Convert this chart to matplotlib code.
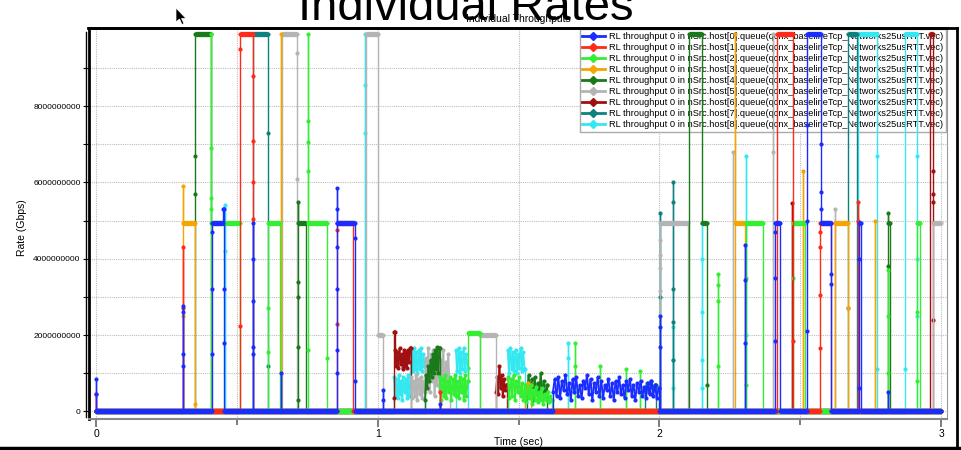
import numpy as np
import matplotlib
matplotlib.use("Agg")
import matplotlib.pyplot as plt
from matplotlib.collections import LineCollection
from matplotlib.lines import Line2D
from matplotlib.patches import Polygon

plt.rcParams['font.family'] = ['Liberation Sans', 'DejaVu Sans']

# ---- data (rates in units of 1e9 bit/s, time in s) ----
# event = (t, [values passed through at t])  or  (t_start, t_end, [samples])
blue_noise = [0.5, 0.85, 0.4, 0.9, 0.35, 0.8, 0.55, 0.95, 0.45, 0.75, 0.3, 0.85, 0.5, 0.9, 0.4,
              0.7, 0.35, 0.8, 0.6, 0.95, 0.45, 0.85, 0.3, 0.75, 0.5, 0.9, 0.4, 0.8, 0.35, 0.7,
              0.55, 0.85, 0.4, 0.75, 0.3, 0.8, 0.5, 0.9, 0.45, 0.7, 0.35, 0.8, 0.55, 0.85, 0.4,
              0.7, 0.3, 0.75, 0.5, 0.8, 0.4, 0.65, 0.35, 0.75, 0.45, 0.8, 0.4, 0.7, 0.35, 0.6]
lime_noise_a = [0.9, 0.3, 0.85, 0.4, 0.95, 0.35, 0.8, 0.5, 0.9, 0.3, 0.85, 0.45, 0.95, 0.4,
                0.8, 0.35, 0.9, 0.5, 0.85, 0.3, 0.95, 0.4, 0.8]
lime_noise_b = [0.9, 0.35, 0.85, 0.4, 0.95, 0.3, 0.8, 0.5, 0.9, 0.4, 0.75, 0.3, 0.7, 0.25, 0.6,
                0.35, 0.7, 0.2, 0.55, 0.3, 0.65, 0.25, 0.5, 0.3, 0.6, 0.2, 0.45, 0.3, 0.5, 0.25,
                0.4, 0.3]
orange_noise = [0.35, 0.6, 0.75, 0.55, 0.4, 0.7]
dgreen_noise_a = [0.3, 0.95, 0.6, 1.2, 0.8, 1.35, 0.9, 1.5, 1.0, 1.6, 1.1, 1.7, 1.0, 1.65]
dgreen_noise_b = [0.4, 0.95, 0.5, 0.85, 0.3, 0.9, 0.45, 0.75, 0.35, 1.0, 0.5, 0.8, 0.4, 0.7]
gray_noise = [0.9, 0.35, 0.8, 0.4, 0.95, 0.3, 0.85, 0.45, 0.9, 0.35, 0.8, 0.5,
              1.4, 0.6, 1.65, 0.5, 1.5, 0.8, 1.6, 0.4, 1.45, 0.7, 1.55, 0.5, 1.35, 0.9,
              1.6, 0.6, 1.3, 0.8, 1.5, 0.6]
dred_noise_a = [1.6, 1.2, 1.55, 1.15, 1.65, 1.25, 1.5, 1.1, 1.6, 1.2, 1.55, 1.15, 1.6, 1.3, 1.65]
dred_noise_b = [0.5, 0.9, 0.45, 1.2, 0.6, 0.95, 0.4, 0.85, 0.55, 0.7]
teal_noise = [0.6, 0.75, 0.5, 0.8, 0.6, 0.7]
cyan_noise_a = [0.9, 0.4, 0.85, 0.35, 0.95, 0.45, 0.8, 0.3, 0.9, 0.5, 0.85, 0.35, 0.95, 0.4,
                0.9, 1.6, 1.05, 1.65, 1.1, 1.55, 1.0, 1.6, 1.1, 1.65, 1.05, 1.5, 1.2]
cyan_noise_c = [1.6, 1.05, 1.65, 1.0, 1.55, 1.1, 1.65, 1.05, 1.5, 1.15]
cyan_noise_d = [1.6, 1.0, 1.65, 1.1, 1.55, 1.05, 1.6, 1.0, 1.5, 1.15, 1.65, 1.05, 1.55, 1.1]

host0 = [(0.0, [0.85, 0.45, 0.0]), (0.309, [1.2, 1.5, 2.6, 2.75, 0.0]),
         (0.412, [1.5, 3.2, 4.7, 4.95]), (0.450, [5.3]), (0.456, [3.2, 1.8, 0.0]),
         (0.557, [1.5, 1.7, 2.9, 4.0, 4.95, 0.0]), (0.655, [1.0, 0.0]),
         (0.856, [1.0, 1.6, 3.2, 4.3, 5.85, 5.3, 4.95]), (0.919, [4.55, 0.8, 0.0]),
         (1.019, [0.3, 0.55, 0.0]), (1.221, [0.2, 0.0]),
         (1.622, 1.997, blue_noise), (1.999, [0.0]), (2.002, [1.7, 2.2, 2.5, 0.0]),
         (2.305, [1.8, 3.45, 4.35, 0.0]), (2.410, [1.85, 3.5, 4.7, 4.95]), (2.428, [0.0]),
         (2.524, [2.1, 5.0, 7.5, 9.9]), (2.572, [7.0, 5.75, 5.3, 4.95]),
         (2.610, [3.6, 3.35, 0.0]), (2.707, [0.6, 4.0, 4.95]), (2.714, [0.0]),
         (2.811, [0.5, 0.0])]
host1 = [(0.0, [0.45, 0.0]), (0.309, [2.7, 4.3, 0.0]), (0.511, [2.25, 9.5, 9.9]),
         (0.557, [8.8, 7.1, 6.0, 5.05, 0.0]), (0.856, [2.3, 4.75, 4.95]), (0.912, [0.0]),
         (1.221, [0.5, 0.0]), (2.417, [9.9]), (2.474, [1.85, 0.0]),
         (2.570, [1.65, 3.05, 4.3, 4.7, 4.95]), (2.608, [0.0]), (2.705, [5.0, 5.5, 0.0])]
host2 = [(0.408, [9.9, 6.9, 5.6, 5.3, 4.95]), (0.511, [0.0]), (0.611, [1.55, 2.7, 4.95]),
         (0.653, [0.0]), (0.753, [1.6, 6.3, 7.05, 7.6, 9.9, 4.95]), (0.820, [1.4, 0.0]),
         (1.221, 1.319, lime_noise_a), (1.321, [2.05]), (1.363, [0.0]),
         (1.462, 1.618, lime_noise_b), (1.620, [0.0]), (1.700, [1.2, 1.8, 0.0]),
         (1.790, [1.2, 0.0]), (1.880, [1.1, 0.0]), (1.930, [1.05, 0.0]),
         (2.208, [1.2, 2.9, 3.3, 3.6, 0.0]), (2.307, [0.7, 3.5, 4.95]), (2.368, [0.0]),
         (2.474, [3.5, 4.95]), (2.517, [0.0]), (2.811, [1.0, 2.5, 3.7, 0.0]),
         (2.914, [0.8, 2.6, 4.95]), (2.925, [0.0])]
host3 = [(0.309, [2.5, 5.9, 4.95]), (0.351, [0.2, 0.0]), (0.657, [9.9, 0.0]),
         (1.523, 1.545, orange_noise), (1.545, [0.0]), (2.268, [9.9, 4.95]), (2.304, [0.0]),
         (2.510, [6.3, 0.0]), (2.623, [4.95]), (2.670, [2.7, 0.0]), (2.765, [5.0, 0.0])]
host4 = [(0.351, [5.7, 6.7, 9.9]), (0.408, [0.0]), (0.717, [0.3, 1.7, 3.0, 3.4, 5.5, 4.95]),
         (0.745, [0.0]), (1.168, 1.219, dgreen_noise_a), (1.221, [0.0]),
         (1.530, 1.600, dgreen_noise_b), (1.602, [0.0]), (2.105, [9.9]), (2.151, [4.95]),
         (2.169, [0.7, 0.0]), (2.811, [3.8, 5.2, 4.95]), (2.818, [0.0])]
host5 = [(0.660, [9.9]), (0.714, [9.4, 6.1, 0.0]), (0.958, [9.9]), (1.001, [2.0]),
         (1.019, [0.0]), (1.118, 1.255, gray_noise), (1.257, [0.0]), (1.363, [2.0]),
         (1.420, [0.0]), (2.002, [3.15, 3.75, 4.1, 4.5, 4.95]), (2.102, [0.0]),
         (2.262, [6.8, 0.0]), (2.405, [9.9, 6.8, 0.0]), (2.623, [5.3, 0.0]), (2.971, [4.95])]
host6 = [(1.058, [0.35, 2.07]), (1.062, 1.116, dred_noise_a), (1.118, [0.0]),
         (1.420, 1.456, dred_noise_b), (1.458, [0.0]), (2.471, [5.45, 0.0]),
         (2.960, [9.9]), (2.971, [6.3, 5.7, 5.5, 2.4, 0.0])]
host7 = [(0.557, [9.9]), (0.611, [7.3, 1.2, 0.0]), (1.950, 1.985, teal_noise), (1.987, [0.0]),
         (2.002, [3.0, 5.2, 0.0]), (2.048, [1.35, 2.35, 3.2, 5.5, 6.0, 0.0]),
         (2.670, [2.7, 9.9]), (2.701, [0.0])]
host8 = [(0.458, [4.2, 5.4, 0.0]), (0.955, [7.3, 8.55, 9.9, 0.0]),
         (1.058, 1.166, cyan_noise_a), (1.168, [0.0]), (1.278, 1.319, cyan_noise_c),
         (1.321, [0.0]), (1.462, 1.521, cyan_noise_d), (1.523, [0.0]),
         (1.676, [1.4, 1.8, 0.0]), (2.048, [0.6, 1.35, 2.2, 0.0]),
         (2.151, [4.95, 4.0, 2.6, 1.35, 0.6, 0.0]), (2.307, [2.0, 6.7, 0.0]),
         (2.705, [9.9]), (2.774, [6.7, 1.1, 0.0]), (2.872, [1.1, 9.9]),
         (2.916, [6.7, 4.0, 2.5, 0.0])]

hosts = [host0, host1, host2, host3, host4, host5, host6, host7, host8]
colors = ['#1a2cff', '#ff2a1a', '#33ee33', '#f5a400', '#1a7a1a',
          '#b4b4b4', '#a01010', '#0f8080', '#33e8f0']
labels = ['RL throughput 0 in nSrc.host[%d].queue(qcnx_baselineTcp_Networks25usRTT.vec)' % i
          for i in range(9)]
ytick_vals = [0, 2e9, 4e9, 6e9, 8e9]
ytick_labels = ['0', '2000000000', '4000000000', '6000000000', '8000000000']
xtick_vals = [0, 1, 2, 3]
t_end = 3.0


def build(events):
    ts, vs, level = [0.0], [0.0], 0.0
    for ev in events:
        if len(ev) == 2:
            t, vals = ev
            if t != ts[-1] or level != vs[-1]:
                ts.append(t); vs.append(level)
            for v in vals:
                ts.append(t); vs.append(v)
            level = vals[-1]
        else:
            t0, t1, vals = ev
            if t0 != ts[-1] or level != vs[-1]:
                ts.append(t0); vs.append(level)
            ts.extend(np.linspace(t0, t1, len(vals))); vs.extend(vals)
            level = vals[-1]
    ts.append(t_end); vs.append(level)
    return np.array(ts), np.array(vs) * 1e9


W, H = 961, 450
fig = plt.figure(figsize=(W / 100, H / 100), dpi=100)


def fx(px):
    return px / W


def fy(py):
    return 1 - py / H


ax = fig.add_axes([fx(89), fy(419), fx(947) - fx(89), fy(28) - fy(419)])
ax.set_xlim(-0.025, 3.021)
ax.set_ylim(-0.2e9, 10.05e9)
ax.set_axisbelow(True)

for h in range(8, -1, -1):
    t, v = build(hosts[h])
    segs = [((t[i], v[i]), (t[i + 1], v[i + 1])) for i in range(len(t) - 1)]
    flat = [(v[i] == v[i + 1] and t[i] != t[i + 1]) for i in range(len(t) - 1)]
    noisy = [(t[i] != t[i + 1] and v[i] != v[i + 1]) for i in range(len(t) - 1)]
    lws = [3.8 if f else (1.4 if n else 1.0) for f, n in zip(flat, noisy)]
    lc = LineCollection(segs, colors=colors[h], linewidths=lws, zorder=3 + (8 - h) * 0.1,
                        capstyle='butt')
    ax.add_collection(lc)
    ax.plot(t, v, 'o', ms=3.0, color=colors[h], mec='none', zorder=3 + (8 - h) * 0.1 + 0.05)

# grid / ticks
ax.set_yticks(ytick_vals)
ax.set_yticklabels(ytick_labels)
ax.set_yticks([1e9, 3e9, 5e9, 7e9, 9e9], minor=True)
ax.set_xticks(xtick_vals)
ax.set_xticklabels([str(x) for x in xtick_vals])
ax.set_xticks([0.5, 1.5, 2.5], minor=True)
ax.grid(True, which='both', color='#bdbdbd', lw=0.8, ls=(0, (1, 1)))
ax.tick_params(axis='y', which='both', direction='out', length=4, width=0.8,
               labelsize=6.0, pad=2, colors='black')
ax.tick_params(axis='x', which='major', direction='out', length=6, width=1.2,
               labelsize=7.5, pad=1, color='#666666')
ax.tick_params(axis='x', which='minor', direction='out', length=4, width=1.2, color='#666666')
ax.spines['left'].set_linewidth(2)
ax.spines['top'].set_linewidth(2)
ax.spines['right'].set_color('#999999')
ax.spines['bottom'].set_color('#888888')
ax.spines['bottom'].set_linewidth(1.5)

ax.set_xlabel('Time (sec)', fontsize=7.5)
ax.xaxis.set_label_coords(0.5, -0.045)
ax.set_ylabel('Rate (Gbps)', fontsize=7.5)
ax.yaxis.set_label_coords(-0.072, 0.49)
ax.set_title('Individual Throughputs', fontsize=7.5, pad=4)

handles = [Line2D([0], [0], color=colors[i], lw=2, marker='D', ms=3.8) for i in range(9)]
leg = ax.legend(handles, labels, loc='upper right', fontsize=6.65, frameon=True,
                fancybox=False, edgecolor='#aaaaaa', framealpha=1, borderaxespad=0.15,
                labelspacing=0.22, handlelength=2.4, handletextpad=0.45, borderpad=0.3)
leg.set_zorder(2)

# slide decorations
fig.text(fx(466), fy(20), 'Individual Rates', fontsize=34, ha='center', va='baseline')
fig.add_artist(Line2D([fx(88), fx(957)], [fy(28), fy(28)], color='black', lw=2))
fig.add_artist(Line2D([fx(957), fx(957)], [fy(28), fy(448)], color='black', lw=2))
fig.add_artist(Line2D([0, 1], [fy(448), fy(448)], color='black', lw=2.5))
fig.add_artist(Line2D([fx(85.5), fx(85.5)], [fy(32), fy(417)], color='black', lw=1))
cursor = [(176, 8), (176, 22), (179.5, 19), (182, 24.5), (184, 23.5), (181.5, 18.5), (186, 18.5)]
fig.add_artist(Polygon([(fx(x), fy(y)) for x, y in cursor], closed=True,
                       transform=fig.transFigure, facecolor='black', edgecolor='white', lw=0.5))

fig.savefig('out.png', dpi=100)
